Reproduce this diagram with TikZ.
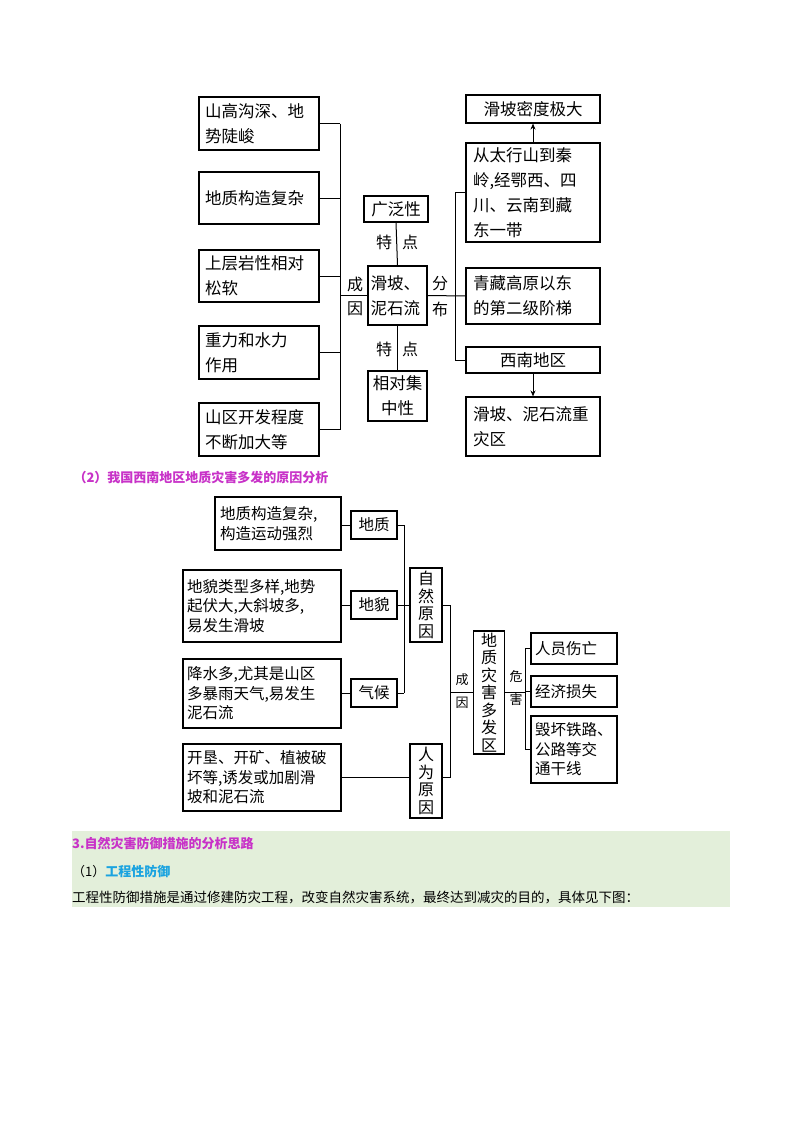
\documentclass[tikz,border=0pt]{standalone}
\usepackage{fontspec}
\setmainfont{Noto Sans CJK SC}
\usetikzlibrary{arrows.meta}
\definecolor{mag}{HTML}{C832C8}
\definecolor{cyn}{HTML}{1AA3E0}
\definecolor{band}{HTML}{E3EFDA}
\begin{document}
\begin{tikzpicture}[x=1pt,y=-1pt,
  bx/.style={draw,line width=1.1pt,inner sep=0pt,align=left,font=\fontsize{16.5}{25}\selectfont},
  mb/.style={draw,line width=1.1pt,inner sep=0pt,align=left,font=\fontsize{15.5}{19.5}\selectfont},
  vb/.style={draw,line width=1.1pt,inner sep=0pt,align=center,font=\fontsize{16}{17.5}\selectfont},
  ln/.style={line width=1pt},
  lab/.style={font=\fontsize{16}{16}\selectfont},
  slab/.style={font=\fontsize{13}{13}\selectfont}]
\useasboundingbox (0,0) rectangle (800,1132);
\fill[white] (0,0) rectangle (800,1132);
% ---------- top diagram ----------
\coordinate (busL) at (340,0);
\coordinate (busR) at (455,0);
\node[bx,minimum width=120pt,minimum height=53pt,text width=108pt] (a1) at (259,123.5) {山高沟深、地\\势陡峻};
\node[bx,minimum width=120pt,minimum height=52pt,text width=108pt] (a2) at (259,198) {地质构造复杂};
\node[bx,minimum width=120pt,minimum height=52pt,text width=108pt] (a3) at (259,276) {上层岩性相对\\松软};
\node[bx,minimum width=120pt,minimum height=53pt,text width=108pt] (a4) at (259,352.5) {重力和水力\\作用};
\node[bx,minimum width=120pt,minimum height=53pt,text width=108pt] (a5) at (259,429.5) {山区开发程度\\不断加大等};
\node[bx,minimum width=59pt,minimum height=59pt,text width=54pt] (c) at (397.5,295.5) {滑坡、\\泥石流};
\node[bx,minimum width=64pt,minimum height=26pt,align=center] (t1) at (396,209) {广泛性};
\node[bx,minimum width=59pt,minimum height=50pt,align=center] (t2) at (397.5,396) {相对集\\中性};
\node[bx,minimum width=134pt,minimum height=28pt,align=center] (r1) at (533,109) {滑坡密度极大};
\node[bx,minimum width=134pt,minimum height=99pt,text width=120pt] (r2) at (533,192.5) {从太行山到秦\\岭,经鄂西、四\\川、云南到藏\\东一带};
\node[bx,minimum width=134pt,minimum height=56pt,text width=120pt] (r3) at (533,296) {青藏高原以东\\的第二级阶梯};
\node[bx,minimum width=134pt,minimum height=26pt,align=center] (r4) at (533,360) {西南地区};
\node[bx,minimum width=134pt,minimum height=59pt,text width=120pt] (r5) at (533,426.5) {滑坡、泥石流重\\灾区};
\foreach \n in {a1,a2,a3,a4,a5} \draw[ln] (\n.east) -- (\n.east -| busL);
\draw[ln] (a1.east -| busL) -- (a5.east -| busL);
\draw[ln] (c.west -| busL) -- (c.west);
\draw[ln] (t1.south) -- (c.north);
\draw[ln] (c.south) -- (t2.north);
\draw[ln] (c.east) -- (r3.west);
\draw[ln] (r2.west -| busR) -- (r4.west -| busR);
\draw[ln] (r2.west -| busR) -- (r2.west);
\draw[ln] (r4.west -| busR) -- (r4.west);
\draw[ln,-{Stealth[length=6pt,width=5pt]}] (r2.north) -- (r1.south);
\draw[ln,-{Stealth[length=6pt,width=5pt]}] (r4.south) -- (r5.north);
\node[lab] (l1) at (355,284) {成};
\node[lab] (l2) at (355,309) {因};
\node[lab] (l3) at (440,284) {分};
\node[lab] (l4) at (440,309) {布};
\node[lab] (l5) at (384,242) {特};
\node[lab] (l6) at (410,242) {点};
\node[lab] (l7) at (384,349) {特};
\node[lab] (l8) at (410,349) {点};
% ---------- title ----------
\node[anchor=west,text=mag,font=\fontsize{13}{13}\selectfont\bfseries] (h1) at (70,478) {（2）我国西南地区地质灾害多发的原因分析};
% ---------- middle diagram ----------
\coordinate (bus1) at (404,0);
\coordinate (bus2) at (450,0);
\coordinate (bus3) at (525,0);
\node[mb,minimum width=126pt,minimum height=53pt,text width=116pt] (d1) at (278,523.5) {地质构造复杂,\\构造运动强烈};
\node[mb,minimum width=158pt,minimum height=72pt,text width=150pt] (d2) at (262,606) {地貌类型多样,地势\\起伏大,大斜坡多,\\易发生滑坡};
\node[mb,minimum width=158pt,minimum height=69pt,text width=150pt] (d3) at (262,693.5) {降水多,尤其是山区\\多暴雨天气,易发生\\泥石流};
\node[mb,minimum width=158pt,minimum height=67pt,text width=150pt] (d4) at (262,777.5) {开垦、开矿、植被破\\坏等,诱发或加剧滑\\坡和泥石流};
\node[mb,minimum width=46pt,minimum height=28pt,align=center] (k1) at (374,525) {地质};
\node[mb,minimum width=46pt,minimum height=28pt,align=center] (k2) at (374,605) {地貌};
\node[mb,minimum width=46pt,minimum height=28pt,align=center] (k3) at (374,693) {气候};
\node[vb,minimum width=32pt,minimum height=74pt] (n1) at (426,605) {自\\然\\原\\因};
\node[vb,minimum width=32pt,minimum height=74pt] (n2) at (426,781) {人\\为\\原\\因};
\node[vb,minimum width=31pt,minimum height=123pt] (g) at (489,692.5) {地\\质\\灾\\害\\多\\发\\区};
\node[mb,minimum width=86pt,minimum height=31pt,text width=78pt] (e1) at (574,648.5) {人员伤亡};
\node[mb,minimum width=86pt,minimum height=31pt,text width=78pt] (e2) at (574,691.5) {经济损失};
\node[mb,minimum width=86pt,minimum height=67pt,text width=78pt] (e3) at (574,749.5) {毁坏铁路、\\公路等交\\通干线};
\foreach \i in {1,2,3} \draw[ln] (d\i.east |- k\i.west) -- (k\i.west);
\foreach \i in {1,2,3} \draw[ln] (k\i.east) -- (k\i.east -| bus1);
\draw[ln] (k1.east -| bus1) -- (k3.east -| bus1);
\draw[ln] (n1.west -| bus1) -- (n1.west);
\draw[ln] (d4.east) -- (d4.east -| n2.west);
\draw[ln] (n1.east) -- (n1.east -| bus2);
\draw[ln] (d4.east -| n2.east) -- (d4.east -| bus2);
\draw[ln] (n1.east -| bus2) -- (d4.east -| bus2);
\draw[ln] (g.west -| bus2) -- (g.west);
\draw[ln] (g.east) -- (g.east -| bus3);
\draw[ln] (e1.west -| bus3) -- (e3.west -| bus3);
\foreach \n in {e1,e2,e3} \draw[ln] (\n.west -| bus3) -- (\n.west);
\node[slab] (m1) at (462,680) {成};
\node[slab] (m2) at (462,703) {因};
\node[slab] (m3) at (516,677) {危};
\node[slab] (m4) at (516,700) {害};
% ---------- band ----------
\fill[band] (72,831) rectangle (730,907);
\node[anchor=west,text=mag,font=\fontsize{13}{13}\selectfont\bfseries,inner sep=0pt] (h2) at (72,843) {3.自然灾害防御措施的分析思路};
\node[anchor=west,font=\fontsize{13}{13}\selectfont,inner sep=0pt] (h3) at (72,871) {（1）\textcolor{cyn}{\bfseries 工程性防御}};
\node[anchor=west,font=\fontsize{13.5}{13.5}\selectfont,inner sep=0pt] (h4) at (72,897) {工程性防御措施是通过修建防灾工程，改变自然灾害系统，最终达到减灾的目的，具体见下图：};
\end{tikzpicture}
\end{document}
